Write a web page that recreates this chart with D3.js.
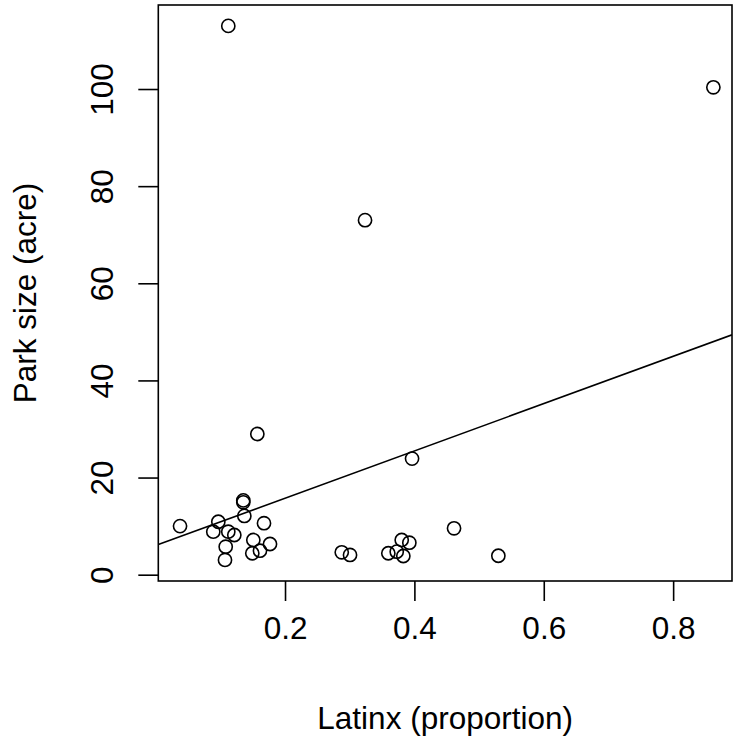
<!DOCTYPE html>
<html>
<head>
<meta charset="utf-8">
<script src="https://cdn.jsdelivr.net/npm/d3@7"></script>
<style>
  html, body { margin: 0; padding: 0; background: #fff; }
  svg text { font-family: "Liberation Sans", Arial, sans-serif; fill: #000; }
</style>
</head>
<body>
<svg id="chart" width="735" height="742"></svg>
<script>
// Data
const latinx = [0.0377, 0.1123, 0.8622, 0.3237, 0.1572, 0.3964, 0.4613, 0.5298,
  0.1355, 0.1355, 0.1371, 0.0969, 0.0891, 0.1123, 0.1216, 0.1675, 0.1510, 0.1768,
  0.1613, 0.1494, 0.1083, 0.1072,
  0.2877, 0.3005, 0.3597, 0.3804, 0.3922, 0.3727, 0.3829];
const parkSize = [10.0, 113.0, 100.35, 73.0, 28.97, 23.9, 9.55, 3.9,
  15.3, 14.9, 12.1, 10.9, 8.85, 8.85, 8.17, 10.6, 7.14, 6.32,
  4.94, 4.41, 5.76, 3.03,
  4.61, 4.06, 4.41, 7.14, 6.59, 4.74, 3.85];
const fitIntercept = 6.0;
const fitSlope = 48.7;
const xLim = [0.0041, 0.891];
const yLim = [-1.3, 117.3];
const xTicks = [0.2, 0.4, 0.6, 0.8];
const yTicks = [0, 20, 40, 60, 80, 100];
const xTitle = "Latinx (proportion)";
const yTitle = "Park size (acre)";

(function () {
const svg = d3.select("#chart");
const pL = 158.3, pR = 732, pT = 5, pB = 581;

const x = d3.scaleLinear().domain(xLim).range([pL, pR]);
const y = d3.scaleLinear().domain(yLim).range([pB, pT]);

const fs = 31.5;

// x axis
const xAxis = svg.append("g").attr("transform", `translate(0,${pB})`)
  .call(d3.axisBottom(x).tickValues(xTicks).tickSize(20).tickPadding(16)
    .tickFormat(d3.format(".1f")));
xAxis.select(".domain").remove();
xAxis.selectAll(".tick line").attr("stroke", "#000").attr("stroke-width", 1.6);
xAxis.selectAll(".tick text").attr("font-size", fs)
  .attr("font-family", "Liberation Sans, Arial, sans-serif");

// y axis (rotated labels like R's default)
const yAxis = svg.append("g").attr("transform", `translate(${pL},0)`)
  .call(d3.axisLeft(y).tickValues(yTicks).tickSize(20).tickFormat(d3.format("d")));
yAxis.select(".domain").remove();
yAxis.selectAll(".tick line").attr("stroke", "#000").attr("stroke-width", 1.6);
yAxis.selectAll(".tick text")
  .attr("font-size", fs)
  .attr("font-family", "Liberation Sans, Arial, sans-serif")
  .attr("x", null).attr("dy", null)
  .attr("text-anchor", "middle")
  .attr("transform", "translate(-45,0) rotate(-90)");

// box
svg.append("rect").attr("x", pL).attr("y", pT)
  .attr("width", pR - pL).attr("height", pB - pT)
  .attr("fill", "none").attr("stroke", "#000").attr("stroke-width", 1.6);

// clip for regression line
svg.append("clipPath").attr("id", "clip").append("rect")
  .attr("x", pL).attr("y", pT).attr("width", pR - pL).attr("height", pB - pT);

const xd = x.domain();
svg.append("line")
  .attr("clip-path", "url(#clip)")
  .attr("x1", x(xd[0])).attr("y1", y(fitIntercept + fitSlope * xd[0]))
  .attr("x2", x(xd[1])).attr("y2", y(fitIntercept + fitSlope * xd[1]))
  .attr("stroke", "#000").attr("stroke-width", 1.6);

// points
svg.append("g").selectAll("circle")
  .data(latinx.map((v, i) => [v, parkSize[i]]))
  .join("circle")
  .attr("cx", d => x(d[0])).attr("cy", d => y(d[1]))
  .attr("r", 6.6)
  .attr("fill", "none").attr("stroke", "#000").attr("stroke-width", 1.6);

// titles
svg.append("text").attr("x", (pL + pR) / 2).attr("y", 729)
  .attr("text-anchor", "middle").attr("font-size", fs).text(xTitle);
svg.append("text")
  .attr("transform", `translate(36,${(pT + pB) / 2}) rotate(-90)`)
  .attr("text-anchor", "middle").attr("font-size", fs).text(yTitle);
})();
</script>
</body>
</html>
